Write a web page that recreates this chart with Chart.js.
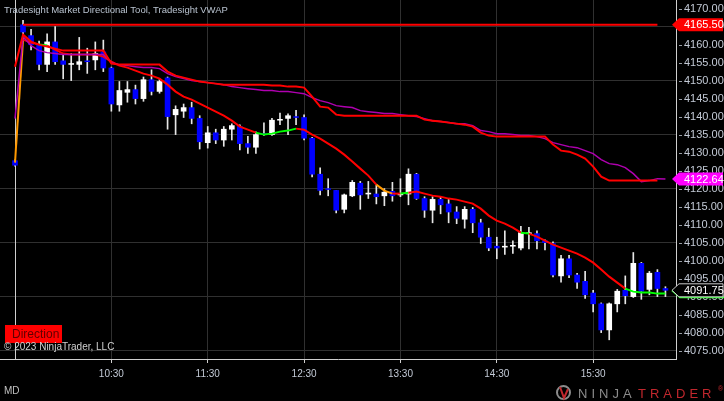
<!DOCTYPE html>
<html>
<head>
<meta charset="utf-8">
<script src="https://cdn.jsdelivr.net/npm/chart.js@4.4.0/dist/chart.umd.min.js"></script>
<style>
  html, body { margin: 0; padding: 0; background: #000; overflow: hidden; }
  #wrap { width: 724px; height: 401px; }
</style>
</head>
<body>
<div id="wrap"><canvas id="chart" width="724" height="401"></canvas></div>
<script>
// 5-minute bars, index 0 = 9:30
const opens  = [4127.75,4165.5,4162.5,4160,4154.5,4160.75,4155.5,4154.5,4154.5,4155.5,
                4155.75,4158,4153.5,4143.25,4146.75,4147.5,4145,4150.25,4147,4150.75,
                4140.5,4141.5,4142.5,4139.5,4132.75,4135.5,4133.5,4136.5,4137.25,4132.5,
                4131.5,4135.25,4135,4139,4139.5,4140,4139.75,4134,4124,4120,
                4119.5,4114.25,4118,4121.5,4118.5,4118.5,4118,4119.25,4118.25,4118.5,
                4124,4117.25,4114,4117,4115.75,4113.5,4111.5,4114.25,4110.5,4106.5,
                4104,4103.75,4104,4103.5,4107.5,4107.5,4105.5,4104.75,4095.75,4100.5,
                4096,4094.25,4091,4088,4080.75,4088,4091.75,4090,4099.25,4092,
                4096.75,4092.25];
const highs  = [4128,4166.75,4164.25,4161,4163,4165,4157.5,4157.5,4162,4159,
                4160.75,4161.25,4153.75,4149.75,4149.75,4148.75,4151,4153,4150.5,4151,
                4143,4143.5,4144,4140.25,4137.25,4136.5,4137.25,4138,4137.75,4134.5,
                4135.75,4138.25,4139.5,4141,4140.75,4141.75,4140.5,4134.25,4125.75,4122.75,
                4119.5,4118.5,4122.25,4122,4122,4121,4120,4121.75,4122.75,4125.5,
                4124.25,4117.75,4117.75,4117.75,4117,4115,4115,4114.75,4111.5,4109,
                4106.5,4108.25,4105.5,4109.5,4109.25,4108.25,4105.75,4105.25,4101.5,4101.5,
                4096.5,4097,4091.75,4088.25,4088.25,4092,4095.75,4102.25,4099.5,4097,
                4097.5,4092.75];
const lows   = [4126.25,4161,4158.5,4153,4152.5,4154.5,4150.5,4150,4153,4152,
                4153,4152.5,4141.5,4141.5,4144,4143.5,4144.25,4146,4146.5,4136.5,
                4135,4139.75,4138,4131,4131.25,4132.5,4131.75,4133.5,4130.75,4129.75,
                4129.75,4134.75,4134.75,4137.75,4135,4137.75,4133.5,4123.25,4118.25,4118,
                4113.25,4113.25,4117.75,4114.25,4117.25,4115.75,4115.25,4116.5,4117.75,4115.5,
                4117,4112,4110.5,4113,4110.5,4110.25,4109,4107.75,4104.75,4102.75,
                4100.5,4101.75,4102,4103,4103.25,4103.25,4103,4095.5,4094,4095.25,
                4092.25,4089.5,4085.75,4080,4078,4085.75,4088,4089.75,4089.25,4090.5,
                4090,4090];
const closes = [4126.5,4163.5,4160,4154.5,4160.75,4155.25,4154.5,4154.75,4155.25,4155.25,
                4157.5,4153.5,4143.5,4147.25,4147.5,4145,4150.25,4147,4149.75,4140,
                4142,4142.5,4139.5,4133,4135.5,4133.5,4136.5,4137.5,4132.5,4131.5,
                4135,4135,4139,4139.25,4140.25,4139.75,4134,4124,4119.5,4119.75,
                4114,4118.25,4121.75,4118.25,4118.75,4117.75,4119,4118,4118.5,4124,
                4117.25,4114,4117,4115.5,4113.5,4111.75,4114.25,4110.5,4106.5,4103.5,
                4103.5,4104,4104.25,4107.75,4107.75,4105.5,4105,4096,4100.5,4096,
                4094,4090.5,4088,4080.75,4088,4091.5,4090.25,4099.25,4091.5,4096.5,
                4092.25,4091.75];

// Tradesight VWAP upper band (red) and VWAP (purple)
const upperBand = [4153.88,4162.77,4160.83,4160,4159.44,4158.88,4158.33,4158.33,4158.33,4158.33,
                   4158.33,4158.33,4154.72,4154.44,4154.44,4154.44,4154.44,4154.44,4154.44,4152.5,
                   4151.38,4150.83,4150.27,4149.72,4149.44,4149.16,4148.88,4148.88,4148.88,4148.88,
                   4148.88,4148.88,4148.61,4148.61,4148.33,4148.33,4148.05,4145.55,4142.77,4142.5,
                   4140.55,4140.27,4140.27,4140.27,4140.27,4140.27,4140.27,4140.27,4140.27,4140.27,
                   4140.27,4139.16,4138.88,4138.61,4138.33,4138.05,4137.77,4137.22,4135.55,4134.72,
                   4134.44,4134.44,4134.44,4134.44,4134.44,4134.44,4134.44,4132.22,4130.55,4130.27,
                   4129.44,4128.33,4126.11,4123.33,4122.22,4122.22,4122.22,4122.22,4122.22,4122.22,
                   4122.22,null];
const vwap = [4139.44,4162.22,4159.72,4158.33,4157.77,4157.5,4157.22,4157.22,4157.22,4157.22,
              4157.22,4157.22,4155,4154.44,4154.16,4153.88,4153.61,4153.61,4153.33,4151.94,
              4151.11,4150.55,4150,4149.72,4149.44,4149.16,4148.88,4148.33,4148.05,4147.77,
              4147.5,4147.22,4147.22,4146.94,4146.94,4146.66,4146.38,4145.27,4144.44,4143.88,
              4143.05,4142.77,4142.5,4141.66,4141.38,4141.11,4140.83,4140.83,4140.55,4140.27,
              4140,4139.44,4138.88,4138.61,4138.33,4138.05,4138.05,4137.5,4136.11,4135.83,
              4135.27,4135.27,4135,4134.72,4134.72,4134.44,4133.88,4132.77,4132.22,4131.66,
              4131.38,4130.55,4129.72,4128.05,4126.94,4126.66,4125.83,4124.16,4121.94,4122.22,
              4122.77,4122.64];

// Market Directional Tool line and its state (1 up, -1 down, 0 neutral)
const dirLine = [4127.22,4161.38,4160.55,4160,4159.72,4158.61,4157.5,4157.22,4157.22,4157.22,
                 4157.22,4156.66,4155.27,4154.16,4153.61,4152.77,4151.94,4151.38,4150.55,4148.88,
                 4146.94,4145.55,4144.72,4143.61,4142.5,4141.38,4140.27,4138.88,4137.22,4136.38,
                 4135.55,4135,4135.27,4135.83,4136.11,4136.66,4136.38,4135,4133.88,4132.5,
                 4131.11,4129.44,4127.5,4125.55,4123.61,4121.11,4119.44,4118.61,4118.61,4118.88,
                 4119.16,4118.61,4118.05,4117.77,4117.22,4116.94,4116.38,4115.83,4114.44,4112.5,
                 4111.11,4110.27,4109.16,4107.77,4107.5,4106.66,4105.55,4104.44,4103.61,4102.77,
                 4101.94,4100.83,4099.44,4097.5,4095.55,4093.88,4092.22,4091.38,4091.11,4091.11,
                 4090.83,4090.83];
const dirState = [0,-1,-1,1,-1,-1,-1,-1,-1,-1,
                  -1,-1,-1,-1,-1,-1,-1,-1,-1,-1,
                  -1,-1,-1,-1,-1,-1,-1,-1,-1,-1,
                  1,1,1,1,1,-1,-1,-1,-1,-1,
                  -1,-1,-1,-1,-1,0,0,-1,1,-1,
                  -1,-1,-1,-1,-1,-1,-1,-1,-1,-1,
                  -1,-1,-1,1,-1,-1,-1,-1,-1,-1,
                  -1,-1,-1,-1,-1,-1,1,1,1,1,
                  1,1];

const openPrice = 4165.5;
const lastPrice = 4091.75;
const vwapLast = 4122.64;

const timeTicks = [12, 24, 36, 48, 60, 72];
const timeLabels = ['10:30', '11:30', '12:30', '13:30', '14:30', '15:30'];
const priceTicks = [4075,4080,4085,4090,4095,4100,4105,4110,4115,4120,
                    4125,4130,4135,4140,4145,4150,4155,4160,4165,4170];

const stateColor = { '1': '#00ff00', '-1': '#ff0000', '0': '#ff9900' };
const labelColor = '#c3cad6';
const FONT = "'Liberation Sans', Arial, sans-serif";

function noPad(s) {
  s.paddingTop = 0;
  s.paddingBottom = 0;
  s.paddingLeft = 0;
  s.paddingRight = 0;
}

function tag(ctx, y, text, bg, fg, edge) {
  const x0 = 672, x1 = 723, h = 13;
  ctx.beginPath();
  ctx.moveTo(x0, y);
  ctx.lineTo(x0 + 7, y - h / 2);
  ctx.lineTo(x1, y - h / 2);
  ctx.lineTo(x1, y + h / 2);
  ctx.lineTo(x0 + 7, y + h / 2);
  ctx.closePath();
  ctx.fillStyle = bg;
  ctx.fill();
  if (edge) {
    ctx.strokeStyle = edge;
    ctx.lineWidth = 1;
    ctx.stroke();
  }
  ctx.fillStyle = fg;
  ctx.font = '11px ' + FONT;
  ctx.textAlign = 'left';
  ctx.textBaseline = 'middle';
  ctx.fillText(text, 684, y + 0.5);
}

const overlay = {
  id: 'overlay',
  beforeDatasetsDraw(chart) {
    const ctx = chart.ctx, xs = chart.scales.x, ys = chart.scales.y;
    ctx.save();
    // session start line
    const sx = Math.round(xs.getPixelForValue(0)) + 0.5;
    ctx.strokeStyle = '#cfcfcf';
    ctx.lineWidth = 1;
    ctx.beginPath();
    ctx.moveTo(sx, chart.chartArea.top);
    ctx.lineTo(sx, chart.chartArea.bottom);
    ctx.stroke();
    // small price tick dashes
    ctx.strokeStyle = '#9aa0a8';
    priceTicks.forEach(v => {
      const y = Math.round(ys.getPixelForValue(v)) + 0.5;
      ctx.beginPath();
      ctx.moveTo(679, y);
      ctx.lineTo(682, y);
      ctx.stroke();
    });
    ctx.restore();
  },
  afterDraw(chart) {
    const ctx = chart.ctx, ys = chart.scales.y;
    ctx.save();
    // price markers
    tag(ctx, ys.getPixelForValue(openPrice), openPrice.toFixed(2), '#ff0000', '#ffffff');
    tag(ctx, ys.getPixelForValue(vwapLast), vwapLast.toFixed(2), '#ff00ff', '#ffffff');
    const ly = ys.getPixelForValue(lastPrice);
    ctx.strokeStyle = '#33ff33';
    ctx.lineWidth = 2;
    ctx.beginPath();
    ctx.moveTo(672, ly);
    ctx.lineTo(680, ly + 7);
    ctx.lineTo(724, ly + 7);
    ctx.stroke();
    tag(ctx, ly, lastPrice.toFixed(2), '#000000', '#ffffff', '#c8c8c8');

    // title
    ctx.font = '9.5px ' + FONT;
    ctx.fillStyle = '#b9c3d0';
    ctx.textAlign = 'left';
    ctx.textBaseline = 'middle';
    ctx.fillText('Tradesight Market Directional Tool, Tradesight VWAP', 4, 10);

    // Direction box
    ctx.fillStyle = '#ff0000';
    ctx.fillRect(5, 325, 57, 18);
    ctx.fillStyle = '#600000';
    ctx.font = '12px ' + FONT;
    ctx.fillText('Direction', 12, 334.5);

    // copyright
    ctx.fillStyle = '#d0d0d0';
    ctx.font = '10px ' + FONT;
    ctx.fillText('\u00A9 2023 NinjaTrader, LLC', 4, 347.5);

    // MD
    ctx.fillStyle = '#c0c0c0';
    ctx.fillText('MD', 4, 391.5);

    // NinjaTrader logo
    ctx.strokeStyle = '#8c8c8c';
    ctx.lineWidth = 2;
    ctx.beginPath();
    ctx.arc(563.5, 392.5, 6.5, 0, Math.PI * 2);
    ctx.stroke();
    ctx.strokeStyle = '#c1272d';
    ctx.lineWidth = 2;
    ctx.beginPath();
    ctx.moveTo(560, 387);
    ctx.lineTo(564, 398);
    ctx.lineTo(568, 389);
    ctx.stroke();
    ctx.font = '13px ' + FONT;
    ctx.textBaseline = 'alphabetic';
    ctx.letterSpacing = '4px';
    ctx.fillStyle = '#8c8c8c';
    ctx.fillText('NINJA', 578, 397.5);
    ctx.fillStyle = '#c1272d';
    ctx.fillText('TRADER', 638, 397.5);
    ctx.letterSpacing = '0px';
    ctx.font = '7px ' + FONT;
    ctx.fillText('\u00AE', 718, 391);
    ctx.restore();
  }
};

const idx = opens.map((_, i) => i);

new Chart(document.getElementById('chart'), {
  type: 'bar',
  data: {
    datasets: [
      {
        type: 'line',
        label: 'Open',
        data: idx.filter(i => i >= 1 && i <= 80).map(i => ({ x: i, y: openPrice })),
        borderColor: '#ff0000',
        borderWidth: 2,
        pointRadius: 0,
        order: 0
      },
      {
        type: 'line',
        label: 'Upper band',
        data: upperBand.map((v, i) => ({ x: i, y: v })),
        borderColor: '#ff0000',
        borderWidth: 2,
        pointRadius: 0,
        order: 0
      },
      {
        type: 'line',
        label: 'VWAP',
        data: vwap.map((v, i) => ({ x: i, y: v })),
        borderColor: '#b000b0',
        borderWidth: 1.5,
        pointRadius: 0,
        order: 0
      },
      {
        type: 'line',
        label: 'Direction',
        data: dirLine.map((v, i) => ({ x: i, y: v })),
        borderColor: '#ff0000',
        borderWidth: 2,
        pointRadius: 0,
        segment: { borderColor: c => stateColor[dirState[c.p0DataIndex]] },
        order: 0
      },
      {
        label: 'Body',
        data: opens.map((o, i) => ({ x: i, y: [o, closes[i]] })),
        backgroundColor: idx.map(i => closes[i] >= opens[i] ? '#ffffff' : '#0000ff'),
        barThickness: 5,
        grouped: false,
        order: 1
      },
      {
        label: 'Wick',
        data: lows.map((l, i) => ({ x: i, y: [l, highs[i]] })),
        backgroundColor: '#e6e6e6',
        barThickness: 1,
        grouped: false,
        order: 2
      }
    ]
  },
  options: {
    responsive: false,
    animation: false,
    layout: { padding: 0 },
    plugins: { legend: { display: false }, tooltip: { enabled: false } },
    scales: {
      x: {
        type: 'linear',
        offset: false,
        bounds: 'ticks',
        min: -1.868,
        max: 82.316,
        afterBuildTicks: s => { s.ticks = timeTicks.map(v => ({ value: v })); },
        afterFit: s => { s.height = 42; noPad(s); },
        ticks: {
          color: labelColor,
          font: { family: FONT, size: 10 },
          padding: 5,
          maxRotation: 0,
          autoSkip: false,
          callback: v => timeLabels[timeTicks.indexOf(v)]
        },
        grid: { offset: false, color: '#303030', tickColor: '#cfcfcf', tickLength: 4 },
        border: { color: '#cfcfcf' }
      },
      y: {
        position: 'right',
        min: 4072.67,
        max: 4172.39,
        afterBuildTicks: s => { s.ticks = priceTicks.map(v => ({ value: v })); },
        afterFit: s => { s.width = 48; noPad(s); },
        ticks: {
          color: labelColor,
          font: { family: FONT, size: 11 },
          padding: 8,
          callback: v => v.toFixed(2)
        },
        grid: {
          color: c => (c.tick && (c.tick.value - 4075) % 15 === 0) ? '#303030' : 'rgba(0,0,0,0)',
          drawTicks: false
        },
        border: { color: '#cfcfcf' }
      }
    }
  },
  plugins: [overlay]
});
</script>
</body>
</html>
